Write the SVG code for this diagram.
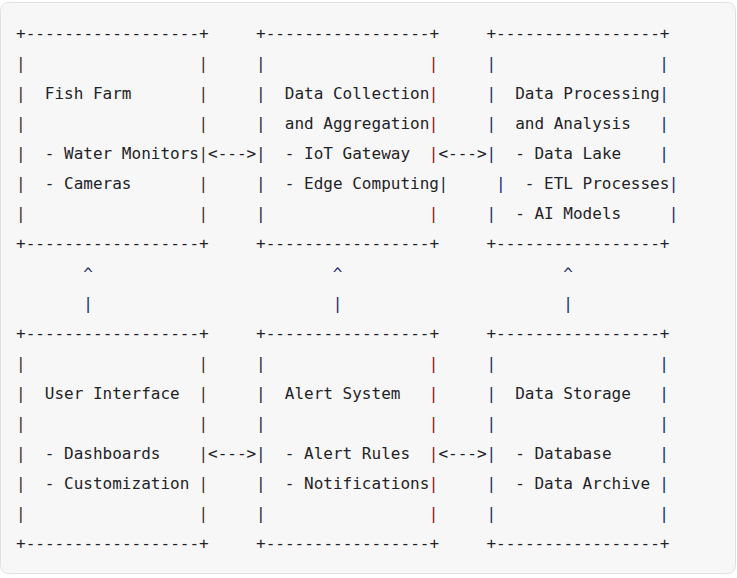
<svg xmlns="http://www.w3.org/2000/svg" width="737" height="578" viewBox="0 0 737 578">
<style>
text{font-family:"DejaVu Sans Mono","Liberation Mono",monospace;font-size:16px;fill:#1f2328;white-space:pre}
.pa{fill:#3d2f28}
.pb{fill:#222a3a}
.pr{fill:#8a1c1c}
.pc{fill:#1c2b6b}
.cv{fill:#1c2b6b}
</style>
<rect x="0.5" y="2.5" width="735" height="571" rx="8" fill="#f7f7f7" stroke="#e2e2e2"/>
<g id="fish-farm">
<text x="16" y="39">+------------------+</text>
<text x="16" y="249">+------------------+</text>
<text class="pa"><tspan x="16" y="69">|</tspan><tspan x="16" y="99">|</tspan><tspan x="16" y="129">|</tspan><tspan x="16" y="159">|</tspan><tspan x="16" y="189">|</tspan><tspan x="16" y="219">|</tspan></text>
<text class="pa"><tspan x="198.4" y="69">|</tspan><tspan x="198.4" y="99">|</tspan><tspan x="198.4" y="129">|</tspan><tspan x="198.4" y="159">|</tspan><tspan x="198.4" y="189">|</tspan><tspan x="198.4" y="219">|</tspan></text>
<text x="44.8" y="99">Fish Farm</text>
<text x="44.8" y="159">- Water Monitors</text>
<text x="44.8" y="189">- Cameras</text>
</g>
<g id="data-collection">
<text x="256" y="39">+-----------------+</text>
<text x="256" y="249">+-----------------+</text>
<text class="pb"><tspan x="256" y="69">|</tspan><tspan x="256" y="99">|</tspan><tspan x="256" y="129">|</tspan><tspan x="256" y="159">|</tspan><tspan x="256" y="189">|</tspan><tspan x="256" y="219">|</tspan></text>
<text class="pr"><tspan x="428.8" y="69">|</tspan><tspan x="428.8" y="99">|</tspan><tspan x="428.8" y="129">|</tspan><tspan x="428.8" y="159">|</tspan><tspan x="428.8" y="219">|</tspan></text>
<text class="pb" x="438.4" y="189">|</text>
<text x="284.8" y="99">Data Collection</text>
<text x="284.8" y="129">and Aggregation</text>
<text x="284.8" y="159">- IoT Gateway</text>
<text x="284.8" y="189">- Edge Computing</text>
</g>
<g id="data-processing">
<text x="486.4" y="39">+-----------------+</text>
<text x="486.4" y="249">+-----------------+</text>
<text class="pc"><tspan x="486.4" y="69">|</tspan><tspan x="486.4" y="99">|</tspan><tspan x="486.4" y="129">|</tspan><tspan x="486.4" y="159">|</tspan><tspan x="496" y="189">|</tspan><tspan x="486.4" y="219">|</tspan></text>
<text class="pc"><tspan x="659.2" y="69">|</tspan><tspan x="659.2" y="99">|</tspan><tspan x="659.2" y="129">|</tspan><tspan x="659.2" y="159">|</tspan><tspan x="668.8" y="189">|</tspan><tspan x="668.8" y="219">|</tspan></text>
<text x="515.2" y="99">Data Processing</text>
<text x="515.2" y="129">and Analysis</text>
<text x="515.2" y="159">- Data Lake</text>
<text x="524.8" y="189">- ETL Processes</text>
<text x="515.2" y="219">- AI Models</text>
</g>
<g id="user-interface">
<text x="16" y="339">+------------------+</text>
<text x="16" y="549">+------------------+</text>
<text class="pa"><tspan x="16" y="369">|</tspan><tspan x="16" y="399">|</tspan><tspan x="16" y="429">|</tspan><tspan x="16" y="459">|</tspan><tspan x="16" y="489">|</tspan><tspan x="16" y="519">|</tspan></text>
<text class="pa"><tspan x="198.4" y="369">|</tspan><tspan x="198.4" y="399">|</tspan><tspan x="198.4" y="429">|</tspan><tspan x="198.4" y="459">|</tspan><tspan x="198.4" y="489">|</tspan><tspan x="198.4" y="519">|</tspan></text>
<text x="44.8" y="399">User Interface</text>
<text x="44.8" y="459">- Dashboards</text>
<text x="44.8" y="489">- Customization</text>
</g>
<g id="alert-system">
<text x="256" y="339">+-----------------+</text>
<text x="256" y="549">+-----------------+</text>
<text class="pb"><tspan x="256" y="369">|</tspan><tspan x="256" y="399">|</tspan><tspan x="256" y="429">|</tspan><tspan x="256" y="459">|</tspan><tspan x="256" y="489">|</tspan><tspan x="256" y="519">|</tspan></text>
<text class="pr"><tspan x="428.8" y="369">|</tspan><tspan x="428.8" y="399">|</tspan><tspan x="428.8" y="429">|</tspan><tspan x="428.8" y="459">|</tspan><tspan x="428.8" y="489">|</tspan><tspan x="428.8" y="519">|</tspan></text>
<text x="284.8" y="399">Alert System</text>
<text x="284.8" y="459">- Alert Rules</text>
<text x="284.8" y="489">- Notifications</text>
</g>
<g id="data-storage">
<text x="486.4" y="339">+-----------------+</text>
<text x="486.4" y="549">+-----------------+</text>
<text class="pc"><tspan x="486.4" y="369">|</tspan><tspan x="486.4" y="399">|</tspan><tspan x="486.4" y="429">|</tspan><tspan x="486.4" y="459">|</tspan><tspan x="486.4" y="489">|</tspan><tspan x="486.4" y="519">|</tspan></text>
<text class="pc"><tspan x="659.2" y="369">|</tspan><tspan x="659.2" y="399">|</tspan><tspan x="659.2" y="429">|</tspan><tspan x="659.2" y="459">|</tspan><tspan x="659.2" y="489">|</tspan><tspan x="659.2" y="519">|</tspan></text>
<text x="515.2" y="399">Data Storage</text>
<text x="515.2" y="459">- Database</text>
<text x="515.2" y="489">- Data Archive</text>
</g>
<g id="connectors">
<text x="208" y="159">&lt;---&gt;</text>
<text x="438.4" y="159">&lt;---&gt;</text>
<text x="208" y="459">&lt;---&gt;</text>
<text x="438.4" y="459">&lt;---&gt;</text>
<text class="cv"><tspan x="83.2" y="279">^</tspan><tspan x="83.2" y="309">|</tspan></text>
<text class="cv"><tspan x="332.8" y="279">^</tspan><tspan x="332.8" y="309">|</tspan></text>
<text class="cv"><tspan x="563.2" y="279">^</tspan><tspan x="563.2" y="309">|</tspan></text>
</g>
</svg>
